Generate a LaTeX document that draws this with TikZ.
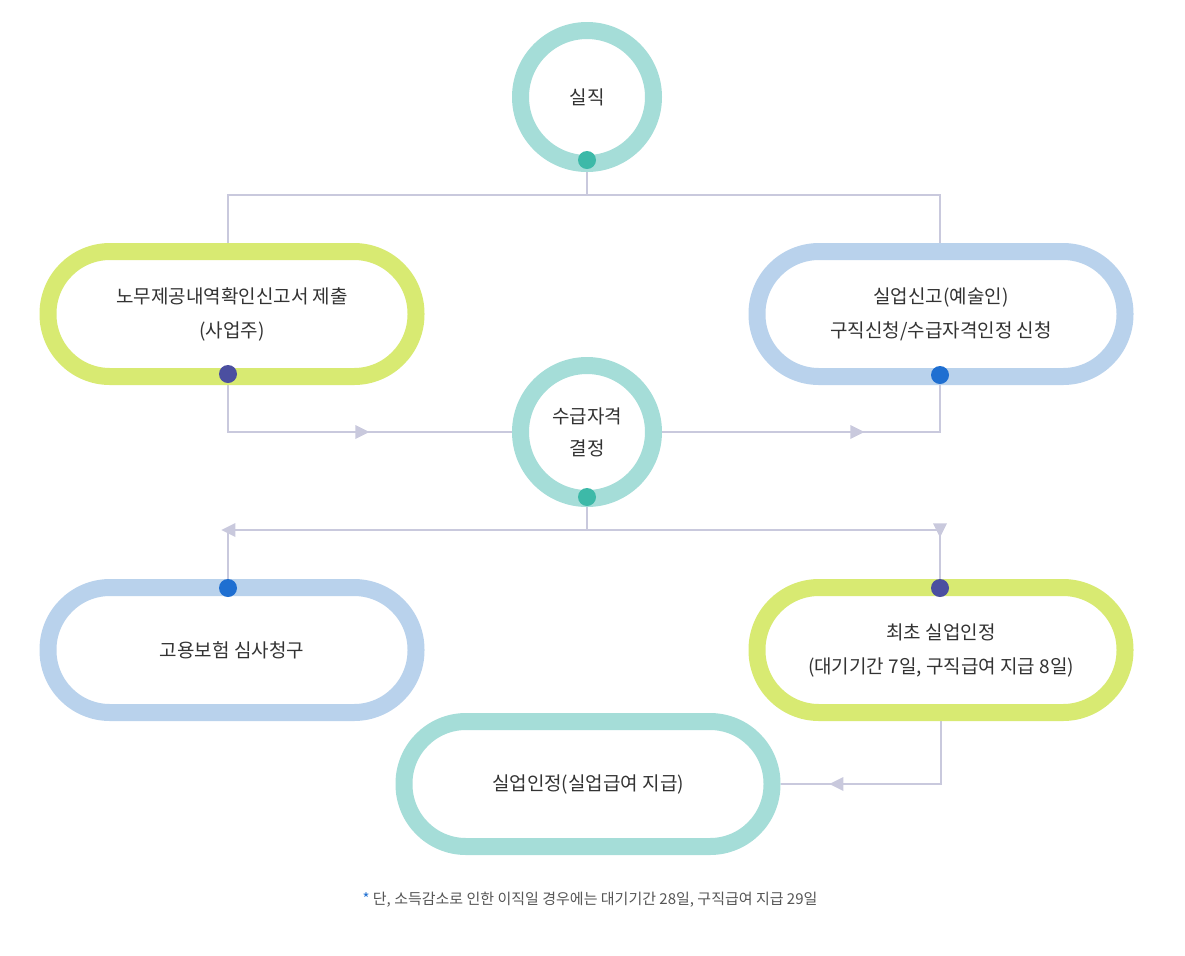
\documentclass[tikz,border=0pt]{standalone}
\usepackage{fontspec}
\setmainfont{Noto Sans CJK KR}
\usetikzlibrary{arrows.meta,decorations.markings,backgrounds}
\definecolor{teal1}{HTML}{A5DDD8}
\definecolor{tealdot}{HTML}{3DB9A8}
\definecolor{green1}{HTML}{D8EA72}
\definecolor{blue1}{HTML}{B9D2EC}
\definecolor{navydot}{HTML}{4B4FA0}
\definecolor{bluedot}{HTML}{1F6FD1}
\definecolor{linec}{HTML}{C9C9DD}
\definecolor{txt}{HTML}{333333}
\definecolor{ftxt}{HTML}{555555}
\tikzset{
 ring/.style={circle,draw=teal1,line width=8.5pt,fill=white,minimum size=66.5pt,inner sep=0pt,align=center,text=txt,font=\fontsize{9.5}{16}\selectfont},
 pill/.style={rectangle,draw=#1,line width=8.5pt,fill=white,minimum width=184pt,minimum height=62.5pt,rounded corners=31pt,align=center,text=txt,font=\fontsize{9.5}{17}\selectfont},
 dot/.style={circle,fill=#1,minimum size=9pt,inner sep=0pt},
 conn/.style={draw=linec,line width=0.6pt},
 marr/.style={postaction=decorate,decoration={markings,mark=at position #1 with {\fill[linec] (3.5pt,0)--(-3.5pt,3.5pt)--(-3.5pt,-3.5pt)--cycle;}}}
}
\begin{document}
\begin{tikzpicture}[x=0.5pt,y=-0.5pt]
\useasboundingbox (0,0) rectangle (1185,955);
\node[ring] (c1) at (587,97) {실직};
\node[dot=tealdot] (d1) at (587,160) {};
\node[pill=green1] (p1) at (232,314) {노무제공내역확인신고서 제출\\(사업주)};
\node[dot=navydot] (d2) at (228,374) {};
\node[pill=blue1] (p2) at (941,314) {실업신고(예술인)\\구직신청/수급자격인정 신청};
\node[dot=bluedot] (d3) at (940,375) {};
\node[ring] (c2) at (587,432) {수급자격\\결정};
\node[dot=tealdot] (d4) at (587,497) {};
\node[pill=blue1] (p3) at (232,650) {고용보험 심사청구};
\node[dot=bluedot] (d5) at (228,588) {};
\node[pill=green1] (p4) at (941,650) {최초 실업인정\\(대기기간 7일, 구직급여 지급 8일)};
\node[dot=navydot] (d6) at (940,588) {};
\node[pill=teal1] (p5) at (588,784) {실업인정(실업급여 지급)};
\node[font=\fontsize{7.5}{9}\selectfont,text=ftxt] (fn) at (590,900) {\textcolor{bluedot}{*}\ 단, 소득감소로 인한 이직일 경우에는 대기기간 28일, 구직급여 지급 29일};
\coordinate (s1) at (587,195);
\coordinate (s2) at (587,530);
\begin{scope}[on background layer]
\draw[conn] (d1) -- (s1);
\draw[conn] (s1) -| (p1.north -| d2);
\draw[conn] (s1) -| (p2.north -| d3);
\draw[conn,marr=0.55] (d2) |- (c2.west);
\draw[conn,marr=0.6] (c2.east) -| (d3);
\draw[conn] (d4) -- (s2);
\draw[conn,marr=0.88] (s2) -| (d5);
\draw[conn,marr=0.88] (s2) -| (d6);
\draw[conn,marr=0.75] (p4.south) |- (p5.east);
\end{scope}
\end{tikzpicture}
\end{document}
